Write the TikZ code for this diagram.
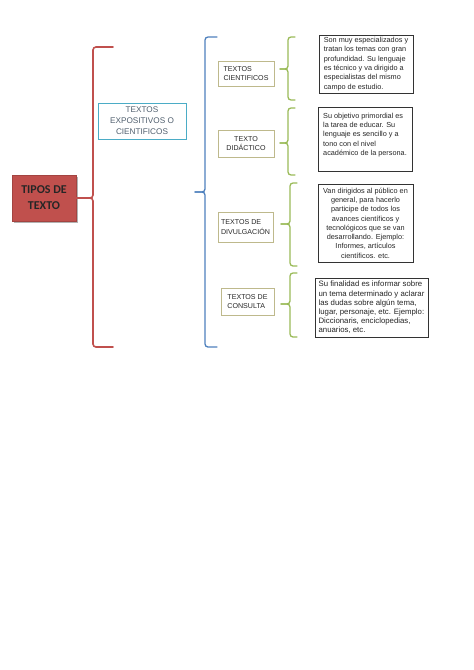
\documentclass[tikz,border=0pt]{standalone}
\usepackage{fontspec}
\setmainfont{Liberation Sans}
\newfontfamily\calib{Carlito}
\usetikzlibrary{shadows}
\definecolor{bred}{RGB}{192,80,77}
\definecolor{bblue}{RGB}{79,129,189}
\definecolor{bgreen}{RGB}{155,187,89}
\definecolor{tealb}{RGB}{75,172,198}
\definecolor{khakib}{RGB}{190,185,140}
\definecolor{expotext}{RGB}{80,95,110}
\newcommand\mybrace[8]{%
  \coordinate (#1t) at (#7,#4);
  \coordinate (#1b) at (#7,#6);
  \coordinate (#1m) at (#8,#5);
  \draw[brace,#2] (#1t) -- (#3,#4) -- (#3,#5) -- (#1m);
  \draw[brace,#2] (#1b) -- (#3,#6) -- (#3,#5) -- (#1m);
}
\begin{document}
\begin{tikzpicture}[x=1pt,y=-1pt,
  brace/.style={rounded corners=3pt, line width=1.3pt, line cap=round},
  tipbox/.style={draw=bred!85!black, line width=0.6pt, fill=bred, minimum width=64pt, minimum height=46pt, inner sep=0pt, align=center,
    font=\calib\bfseries\fontsize{12}{16}\selectfont, text=black!85,
    drop shadow={shadow xshift=1.5pt, shadow yshift=-1.5pt, fill=black!50, opacity=0.6}},
  expobox/.style={draw=tealb, line width=1pt, fill=white, minimum width=88pt, minimum height=36pt, inner sep=0pt, align=center,
    text=expotext, font=\fontsize{8.2}{11}\selectfont},
  catbox/.style={draw=khakib, line width=0.9pt, fill=white, inner sep=0pt, text=black!85, font=\fontsize{7.1}{9.5}\selectfont},
  descbox/.style={draw=black!80, line width=0.8pt, fill=white, inner sep=0pt, text=black!85, font=\fontsize{7.3}{9.3}\selectfont,
    drop shadow={shadow xshift=1.3pt, shadow yshift=-1.3pt, fill=black!60, opacity=0.6}}
]
\useasboundingbox[fill=white] (0,0) rectangle (474,670);

% level 1
\node[tipbox] (tipos) at (44,198) {TIPOS DE\\TEXTO};
\node[expobox] (expo) at (142,121) {TEXTOS\\EXPOSITIVOS O\\CIENTIFICOS};

% categories
\node[catbox, minimum width=56pt, minimum height=25pt, align=left] (cient) at (246,73.5) {TEXTOS\\CIENTIFICOS};
\node[catbox, minimum width=56pt, minimum height=27pt, align=center] (didac) at (246,143.5) {TEXTO\\DIDÁCTICO};
\node[catbox, minimum width=55pt, minimum height=30pt, align=left] (divul) at (245.5,227) {TEXTOS DE\\DIVULGACIÓN};
\node[catbox, minimum width=53pt, minimum height=27pt, align=left] (consul) at (247.5,301.5) {TEXTOS DE\\CONSULTA};

% descriptions
\node[descbox, minimum width=94pt, minimum height=58pt, align=left] (d1) at (366,64)
  {Son muy especializados y\\tratan los temas con gran\\profundidad. Su lenguaje\\es técnico y va dirigido a\\especialistas del mismo\\campo de estudio.};
\node[descbox, minimum width=94pt, minimum height=64pt, align=left] (d2) at (365,139)
  {Su objetivo primordial es\\la tarea de educar. Su\\lenguaje es sencillo y a\\tono con el nivel\\académico de la persona.\\\mbox{}};
\node[descbox, minimum width=95pt, minimum height=78pt, align=center] (d3) at (365.5,223)
  {Van dirigidos al público en\\general, para hacerlo\\participe de todos los\\avances científicos y\\tecnológicos que se van\\desarrollando. Ejemplo:\\Informes, artículos\\científicos. etc.};
\node[descbox, minimum width=113pt, minimum height=59pt, align=left, font=\fontsize{7.8}{9.2}\selectfont] (d4) at (371.5,307.5)
  {Su finalidad es informar sobre\\un tema determinado y aclarar\\las dudas sobre algún tema,\\lugar, personaje, etc. Ejemplo:\\Diccionaris, enciclopedias,\\anuarios, etc.};

% braces
\begin{scope}[brace/.append style={line width=1.6pt}]
\mybrace{r}{bred}{93}{47}{198}{347}{113}{76}
\end{scope}
\mybrace{b}{bblue}{205}{37}{192}{347}{217}{195}
\mybrace{ga}{bgreen}{288}{37}{69}{100}{295}{280}
\mybrace{gb}{bgreen}{288}{108}{143}{175}{295}{280}
\mybrace{gc}{bgreen}{290}{183}{224}{266}{297}{281}
\mybrace{gd}{bgreen}{290}{273}{304}{337}{297}{281}
\end{tikzpicture}
\end{document}
